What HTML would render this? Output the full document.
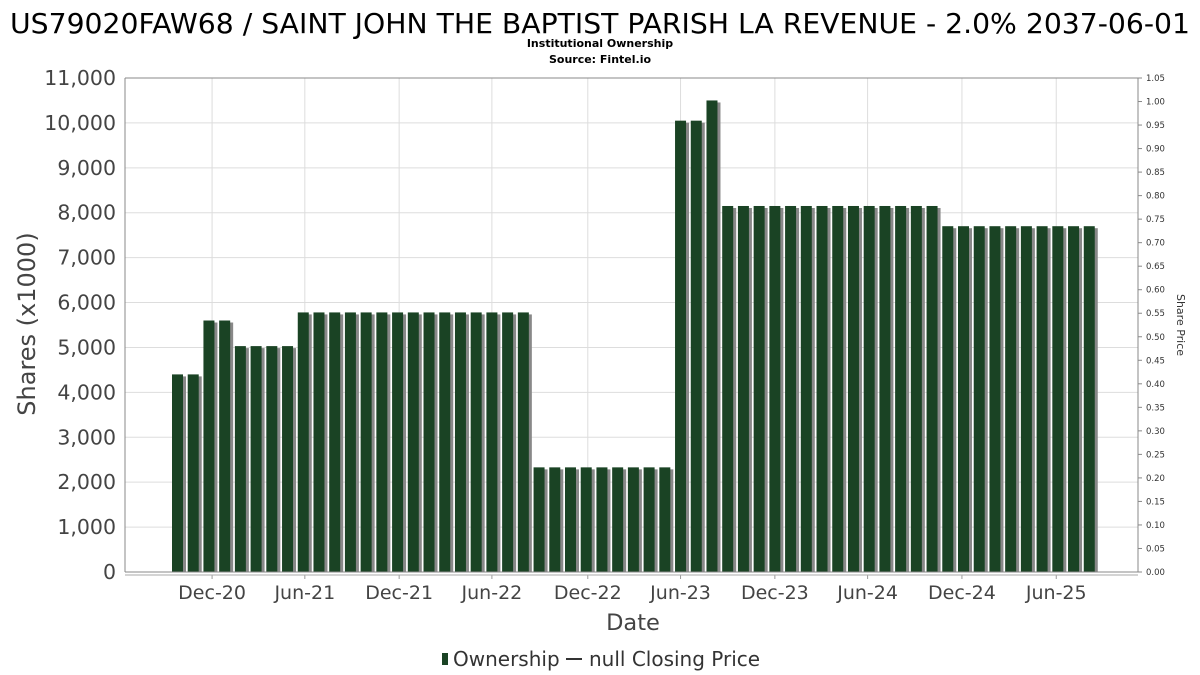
<!DOCTYPE html>
<html><head><meta charset="utf-8"><style>
body{margin:0;background:#fff;}
svg{display:block;font-family:"DejaVu Sans","Liberation Sans",sans-serif;}
</style></head><body>
<svg id="chart" width="1200" height="675">
<text x="600" y="33" text-anchor="middle" font-size="28" fill="#000" textLength="1180" lengthAdjust="spacingAndGlyphs">US79020FAW68 / SAINT JOHN THE BAPTIST PARISH LA REVENUE - 2.0% 2037-06-01</text>
<text x="600" y="47" text-anchor="middle" font-size="11" font-weight="bold" fill="#000">Institutional Ownership</text>
<text x="600" y="63" text-anchor="middle" font-size="11" font-weight="bold" fill="#000">Source: Fintel.io</text>
<g id="grid"></g>
<g id="bars"></g>
<g id="axes"></g>
<text x="633" y="630" text-anchor="middle" font-size="22.5" fill="#444">Date</text>
<text transform="translate(35,324) rotate(-90)" text-anchor="middle" font-size="24" fill="#444">Shares (x1000)</text>
<text transform="translate(1177,325) rotate(90)" text-anchor="middle" font-size="11" fill="#333">Share Price</text>
<g>
<rect x="442" y="653" width="6" height="12" fill="#1a4324"/>
<text x="453" y="666" font-size="20" fill="#333">Ownership</text>
<line x1="566" y1="659" x2="582" y2="659" stroke="#333" stroke-width="2"/>
<text x="589" y="666" font-size="20" fill="#333">null Closing Price</text>
</g>
</svg>
<script>
const ownership = [4400,4400,5600,5600,5030,5030,5030,5030,
5780,5780,5780,5780,5780,5780,5780,5780,5780,5780,5780,5780,5780,5780,5780,
2330,2330,2330,2330,2330,2330,2330,2330,2330,
10050,10050,10500,
8150,8150,8150,8150,8150,8150,8150,8150,8150,8150,8150,8150,8150,8150,
7700,7700,7700,7700,7700,7700,7700,7700,7700,7700];
const yTicks = [0,1000,2000,3000,4000,5000,6000,7000,8000,9000,10000,11000];
const rightTicks = ["0.00","0.05","0.10","0.15","0.20","0.25","0.30","0.35","0.40","0.45","0.50","0.55","0.60","0.65","0.70","0.75","0.80","0.85","0.90","0.95","1.00","1.05"];
const xTickLabels = ["Dec-20","Jun-21","Dec-21","Jun-22","Dec-22","Jun-23","Dec-23","Jun-24","Dec-24","Jun-25"];
const xTickIndex = [2.2,8.1,14.1,20.0,26.1,32.0,38.0,43.9,49.9,55.9];

const NS="http://www.w3.org/2000/svg";
const L=125,R=1138,T=78,B=572;
const yS=v=>B-(v/11000)*(B-T);
const xS=i=>172+i*15.72;
function mk(tag,attrs,parent,text){const e=document.createElementNS(NS,tag);for(const k in attrs)e.setAttribute(k,attrs[k]);if(text!==undefined)e.textContent=text;parent.appendChild(e);return e;}
const grid=document.getElementById('grid'),bars=document.getElementById('bars'),axes=document.getElementById('axes');
yTicks.forEach(v=>{
  const l=mk('line',{x1:L,x2:R,y1:yS(v),y2:yS(v),stroke:'#ddd','stroke-width':1},grid);
  
  
  const t=mk('text',{x:L-9,y:yS(v)+7,'text-anchor':'end','font-size':20.5,fill:'#444'},axes,v.toLocaleString('en-US'));
  
  
});
xTickLabels.forEach((lab,k)=>{
  const x=xS(xTickIndex[k])+5.5;
  const l=mk('line',{x1:x,x2:x,y1:T,y2:B,stroke:'#ddd','stroke-width':1},grid);
  
  
  mk('line',{x1:x,x2:x,y1:575,y2:579,stroke:'#999'},axes);
  const t=mk('text',{x:x,y:599,'text-anchor':'middle','font-size':19,fill:'#444'},axes,lab);
  
  
});
rightTicks.forEach((lab,k)=>{
  const y=B-(k/21)*(B-T);
  mk('line',{x1:R,x2:R+4,y1:y,y2:y,stroke:'#888'},axes);
  const t=mk('text',{x:R+8,y:y+3,'font-size':8.5,fill:'#333'},axes,lab);
  
  
});
ownership.forEach((v,i)=>{
  const x=xS(i),y=yS(v);
  const s=mk('rect',{x:x+3,y:y+2,width:11,height:B-y-2,fill:'#888'},bars);
  
  
  const b=mk('rect',{x:x,y:y,width:11,height:B-y,fill:'#1a4324'},bars);
  
  
});
mk('line',{x1:L,x2:R,y1:T,y2:T,stroke:'#888'},axes);
mk('line',{x1:L,x2:L,y1:T,y2:B,stroke:'#888'},axes);
mk('line',{x1:R,x2:R,y1:T,y2:B,stroke:'#888'},axes);
mk('line',{x1:L,x2:R,y1:575,y2:575,stroke:'#aaa'},axes);
mk('line',{x1:L,x2:R,y1:B,y2:B,stroke:'#888'},axes);
</script>
</body></html>
